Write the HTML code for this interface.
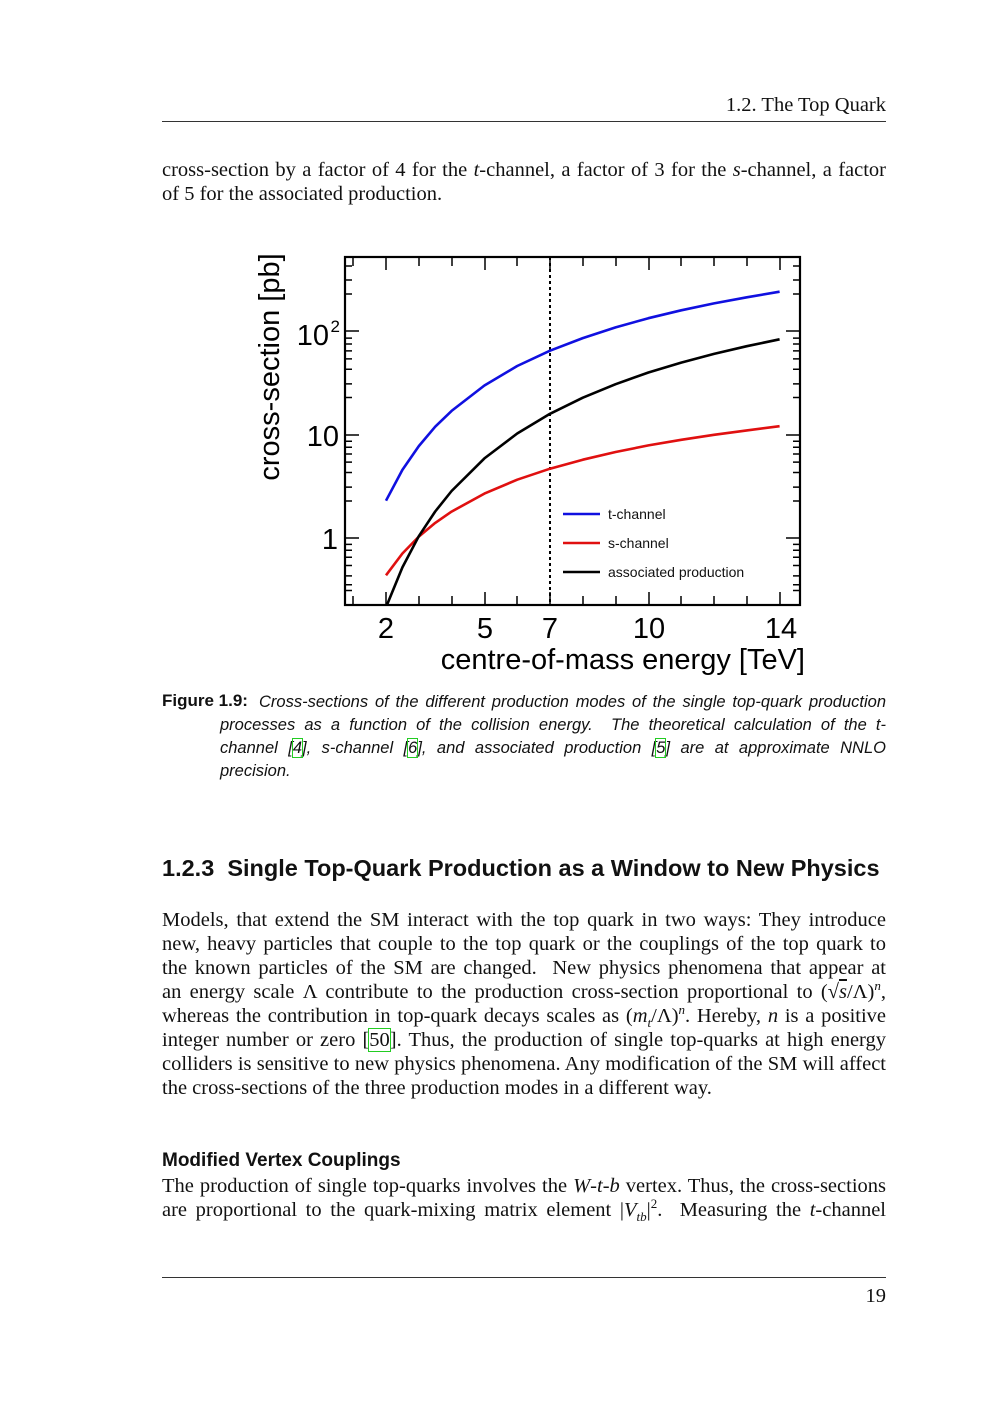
<!DOCTYPE html>
<html><head><meta charset="utf-8"><style>
body{margin:0;background:#fff;}
#pg{position:relative;width:1000px;height:1414px;overflow:hidden;background:#fff;color:#111;font-family:"Liberation Serif",serif;}
.l{position:absolute;left:162px;width:724px;font-size:20.5px;line-height:24px;height:24px;white-space:nowrap;text-align:justify;text-align-last:justify;}
.nl{text-align-last:left;}
.c{position:absolute;left:220px;width:666px;font-family:"Liberation Sans",sans-serif;font-style:italic;font-size:16.5px;line-height:23px;white-space:nowrap;text-align:justify;text-align-last:justify;}
.rule{position:absolute;left:162px;width:724px;height:1px;background:#333;}
.ref{outline:1.5px solid #2c2;}
i{font-style:italic;}
sup,sub{line-height:0;font-size:13px;}
</style></head><body><div id="pg">
<div style="position:absolute;right:114px;top:94px;font-size:20.5px;">1.2. The Top Quark</div>
<div class="rule" style="top:121px"></div>
<div class="l" style="top:158px">cross-section by a factor of 4 for the <i>t</i>-channel, a factor of 3 for the <i>s</i>-channel, a factor</div>
<div class="l nl" style="top:182px">of 5 for the associated production.</div>

<svg style="position:absolute;left:0;top:0" width="1000" height="700" font-family="Liberation Sans, sans-serif">
<defs><clipPath id="cp"><rect x="345" y="257" width="455" height="348"/></clipPath></defs>
<g stroke="#000" stroke-width="1.5" fill="none">
<path d="M353,257V266M353,605V596M419,257V266M419,605V596M452,257V266M452,605V596M517,257V266M517,605V596M583,257V266M583,605V596M616,257V266M616,605V596M681,257V266M681,605V596M714,257V266M714,605V596M747,257V266M747,605V596"/>
<path d="M386,257V270M386,605V592M485,257V270M485,605V592M550,257V270M550,605V592M649,257V270M649,605V592M780,257V270M780,605V592"/>
<path id="yt" d="M345,590.5h7M345,575.9h7M345,565.5h7M345,557.2h7M345,550.3h7M345,544.4h7M345,538h14M345,487.1h7M345,472.5h7M345,462.1h7M345,454h7M345,447.2h7M345,441.2h7M345,435h14M345,331h14M345,383.9h7M345,369.3h7M345,358.9h7M345,350.9h7M345,344h7M345,338.1h7M345,280h7M345,266h7M345,501h7M345,397.5h7M345,294h7M345,584.8h7"/>
<use href="#yt" transform="translate(1145,0) scale(-1,1)"/>
<rect x="345" y="257" width="455" height="348" stroke-width="2.2"/>
<path d="M550,257V605" stroke-dasharray="3,3" stroke-width="2"/>
</g>
<g fill="none" stroke-width="2.6" stroke-linejoin="round" clip-path="url(#cp)">
<polyline stroke="#1010e0" points="386,500.7 402.4,469.9 418.8,446.1 435.2,426.7 451.6,410.9 484.4,385.5 517.2,366 550,350.7 582.8,338.1 615.6,327.4 648.4,318.2 681.2,310.3 714,303.4 746.8,297.3 779.6,291.7"/>
<polyline stroke="#e01010" points="386,575.3 402.4,553.5 418.8,536.6 435.2,522.9 451.6,511.6 484.4,493.6 517.2,479.7 550,468.7 582.8,459.7 615.6,452 648.4,445.4 681.2,439.8 714,434.8 746.8,430.4 779.6,426.2"/>
<polyline stroke="#000" points="386,607.3 402.4,567.4 418.8,536.2 435.2,511.5 451.6,491 484.4,458.4 517.2,433.5 550,413.8 582.8,397.7 615.6,384.2 648.4,372.5 681.2,362.6 714,353.9 746.8,346.2 779.6,339.3"/>
</g>
<g stroke-width="2.4"><path d="M563,514h37" stroke="#1010e0"/><path d="M563,543h37" stroke="#e01010"/><path d="M563,572h37" stroke="#000"/></g>
<g font-size="14" fill="#111"><text x="608" y="519">t-channel</text><text x="608" y="548">s-channel</text><text x="608" y="577">associated production</text></g>
<g font-size="29" fill="#000" text-anchor="middle">
<text x="386" y="638">2</text><text x="485" y="638">5</text><text x="550" y="638">7</text><text x="649" y="638">10</text><text x="781" y="638">14</text>
</g>
<g font-size="29" fill="#000" text-anchor="end">
<text x="329" y="345">10</text><text x="340" y="332" font-size="17">2</text>
<text x="339" y="446">10</text><text x="338" y="549">1</text>
</g>
<text x="805" y="669" font-size="29" text-anchor="end">centre-of-mass energy [TeV]</text>
<text transform="translate(279,367) rotate(-90)" font-size="29" text-anchor="middle">cross-section [pb]</text>
</svg>

<div style="position:absolute;left:162px;top:691px;font-family:'Liberation Sans',sans-serif;font-weight:bold;font-size:17px;">Figure 1.9:</div>
<div class="c" style="top:691px;left:259px;width:627px">Cross-sections of the different production modes of the single top-quark production</div>
<div class="c" style="top:714px">processes as a function of the collision energy.&nbsp; The theoretical calculation of the <i>t</i>-</div>
<div class="c" style="top:737px">channel [<span class="ref">4</span>], <i>s</i>-channel [<span class="ref">6</span>], and associated production [<span class="ref">5</span>] are at approximate NNLO</div>
<div class="c nl" style="top:760px;text-align-last:left">precision.</div>

<div style="position:absolute;left:162px;top:855px;font-family:'Liberation Sans',sans-serif;font-weight:bold;font-size:23.5px;white-space:nowrap;">1.2.3&nbsp; Single Top-Quark Production as a Window to New Physics</div>

<div class="l" style="top:908px">Models, that extend the SM interact with the top quark in two ways: They introduce</div>
<div class="l" style="top:932px">new, heavy particles that couple to the top quark or the couplings of the top quark to</div>
<div class="l" style="top:956px">the known particles of the SM are changed.&nbsp; New physics phenomena that appear at</div>
<div class="l" style="top:980px">an energy scale Λ contribute to the production cross-section proportional to (√<span style="text-decoration:overline"><i>s</i></span>/Λ)<sup><i>n</i></sup>,</div>
<div class="l" style="top:1004px">whereas the contribution in top-quark decays scales as (<i>m<sub>t</sub></i>/Λ)<sup><i>n</i></sup>. Hereby, <i>n</i> is a positive</div>
<div class="l" style="top:1028px">integer number or zero [<span class="ref">50</span>]. Thus, the production of single top-quarks at high energy</div>
<div class="l" style="top:1052px">colliders is sensitive to new physics phenomena. Any modification of the SM will affect</div>
<div class="l nl" style="top:1076px">the cross-sections of the three production modes in a different way.</div>

<div style="position:absolute;left:162px;top:1150px;font-family:'Liberation Sans',sans-serif;font-weight:bold;font-size:19px;">Modified Vertex Couplings</div>
<div class="l" style="top:1174px">The production of single top-quarks involves the <i>W</i>-<i>t</i>-<i>b</i> vertex. Thus, the cross-sections</div>
<div class="l" style="top:1198px">are proportional to the quark-mixing matrix element |<i>V<sub>tb</sub></i>|<sup>2</sup>.&nbsp; Measuring the <i>t</i>-channel</div>

<div class="rule" style="top:1277px"></div>
<div style="position:absolute;right:114px;top:1285px;font-size:20.5px;">19</div>
</div></body></html>
